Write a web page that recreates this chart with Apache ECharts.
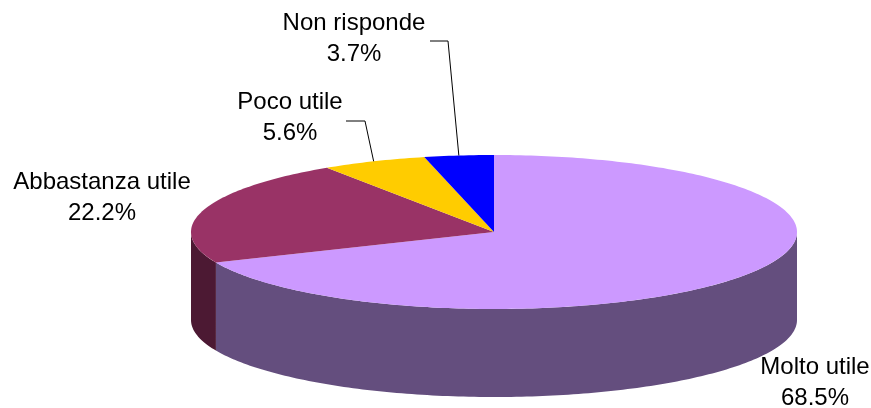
<!DOCTYPE html>
<html>
<head>
<meta charset="utf-8">
<script src="https://cdn.jsdelivr.net/npm/echarts@6/dist/echarts.min.js"></script>
<style>
  html, body { margin: 0; padding: 0; background: #fff; }
  #chart { width: 871px; height: 408px; }
</style>
</head>
<body>
<div id="chart"></div>
<script>
const categories = ['Molto utile', 'Abbastanza utile', 'Poco utile', 'Non risponde'];
const values = [68.5, 22.2, 5.6, 3.7];
const topColors = ['#CC99FF', '#993366', '#FFCC00', '#0000FF'];
const sideColors = ['#644E7E', '#4C1933', '#806600', '#000080'];

// label block centre, and leader start + elbow (px)
const labelPos = [[815, 383], [102, 198], [290, 118], [354, 39]];
const leaders = [null, null, [[346, 121], [365, 121]], [[430, 41], [448, 41]]];

// pie geometry
const cx = 494, cy = 232, rx = 303, ry = 77, depth = 88;

const total = values.reduce((a, b) => a + b, 0);
const starts = [];
let acc = 0;
values.forEach(v => { starts.push(acc / total * 360); acc += v; });

// angle clockwise from 12 o'clock
function pt(deg, dy) {
  const r = deg * Math.PI / 180;
  return [cx + rx * Math.sin(r), cy - ry * Math.cos(r) + (dy || 0)];
}
function arc(a0, a1, dy) {
  const pts = [];
  const n = Math.max(2, Math.ceil(Math.abs(a1 - a0)));
  for (let k = 0; k <= n; k++) pts.push(pt(a0 + (a1 - a0) * k / n, dy));
  return pts;
}

let chart = echarts.init(document.getElementById('chart'));
const data = values.map((v, i) => ({ name: categories[i], value: v }));

chart.setOption({
  animation: false,
  series: [
    {
      // outer walls, front half only
      type: 'custom',
      coordinateSystem: 'none',
      z: 1,
      data: data,
      renderItem: (params, api) => {
        const i = params.dataIndex;
        const a0 = starts[i], a1 = a0 + api.value(0) / total * 360;
        const lo = Math.max(a0, 90), hi = Math.min(a1, 270);
        if (lo >= hi) return null;
        const pts = arc(lo, hi, 0).concat(arc(hi, lo, depth));
        return {
          type: 'polygon',
          shape: { points: pts },
          style: { fill: sideColors[i], stroke: null }
        };
      }
    },
    {
      // top face + labels
      type: 'custom',
      coordinateSystem: 'none',
      z: 2,
      data: data,
      renderItem: (params, api) => {
        const i = params.dataIndex;
        const v = api.value(0);
        const a0 = starts[i], a1 = a0 + v / total * 360;
        const children = [{
          type: 'polygon',
          shape: { points: [[cx, cy]].concat(arc(a0, a1, 0)) },
          style: { fill: topColors[i], stroke: null }
        }];
        if (leaders[i]) {
          const end = pt((a0 + a1) / 2, 0);
          children.push({
            type: 'polyline',
            shape: { points: leaders[i].concat([end]) },
            style: { stroke: '#000', lineWidth: 1, fill: null }
          });
        }
        children.push({
          type: 'text',
          x: labelPos[i][0],
          y: labelPos[i][1],
          style: {
            text: categories[i] + '\n' + v.toFixed(1) + '%',
            fontFamily: 'Liberation Sans, Arial, sans-serif',
            fontSize: 24,
            lineHeight: 31,
            fill: '#000',
            align: 'center',
            verticalAlign: 'middle'
          }
        });
        return { type: 'group', children: children };
      }
    }
  ]
});
</script>
</body>
</html>
